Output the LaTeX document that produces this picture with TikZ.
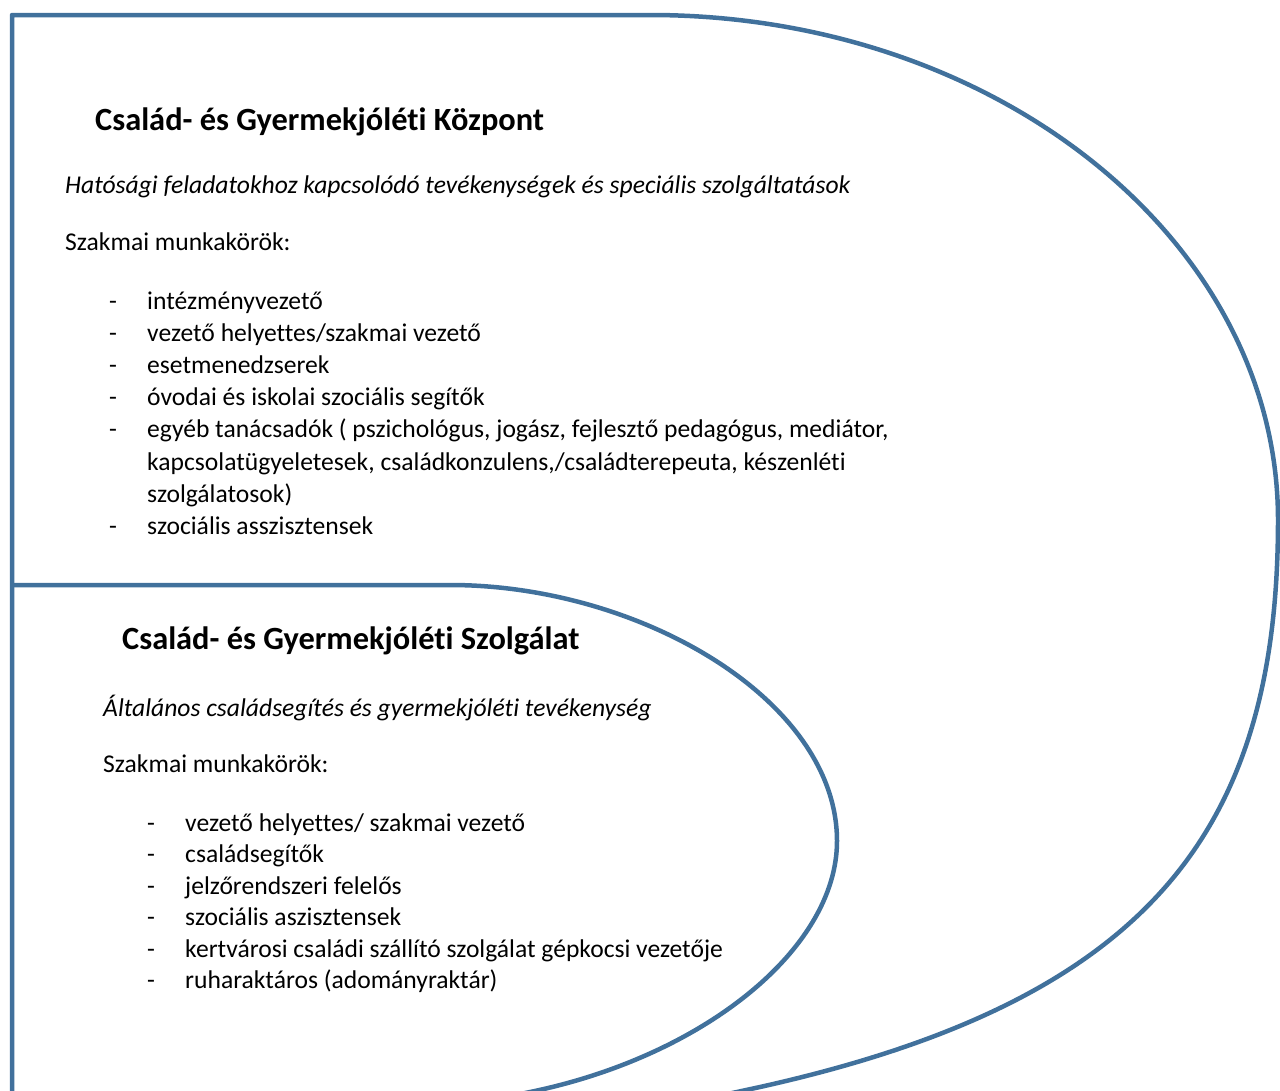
\documentclass[tikz,border=0pt]{standalone}
\usepackage{fontspec}
\setmainfont{Carlito}[Ligatures=CommonOff]
\definecolor{shapeblue}{RGB}{65,113,156}
\begin{document}
\begin{tikzpicture}[x=1pt,y=-1pt,
  outline/.style={draw=shapeblue,line width=4.5pt,line join=round},
  titletext/.style={anchor=base west,inner sep=0pt,font=\fontsize{32.4}{38}\selectfont\bfseries},
  desctext/.style={anchor=base west,inner sep=0pt,font=\fontsize{25.6}{32}\selectfont\itshape},
  bodytext/.style={anchor=base west,inner sep=0pt,font=\fontsize{25.6}{32}\selectfont},
  dashmark/.style={anchor=base west,inner sep=0pt,font=\fontsize{25.6}{32}\selectfont},
  itemtext/.style={anchor=base west,inner sep=0pt,align=left,font=\fontsize{25.6}{32.2}\selectfont}]
\useasboundingbox (0,0) rectangle (1280,1090);
% outer shape (Központ)
\draw[outline] (12,1096) -- (12,15) -- (650,15)
  .. controls (997,15) and (1278,241) .. (1278,520)
  .. controls (1278,830) and (1150,1000) .. (760,1087) -- (700,1100);
% inner shape (Szolgálat)
\draw[outline] (12,585) -- (450,585)
  .. controls (640,585) and (837,700) .. (837,841)
  .. controls (837,950) and (700,1060) .. (520,1094) -- (490,1099);
% texts of the outer shape
\node[titletext] (t1) at (95,130) {Család- és Gyermekjóléti Központ};
\node[desctext] (d1) at (65,193) {Hatósági feladatokhoz kapcsolódó tevékenységek és speciális szolgáltatások};
\node[bodytext] (s1) at (65,250) {Szakmai munkakörök:};
\foreach \y/\txt [count=\i] in {
  309/{intézményvezető},
  341.2/{vezető helyettes/szakmai vezető},
  373.4/{esetmenedzserek},
  405.6/{óvodai és iskolai szociális segítők},
  437.8/{egyéb tanácsadók ( pszichológus, jogász, fejlesztő pedagógus, mediátor,},
  534.4/{szociális asszisztensek}}
{
  \node[dashmark] (da\i) at (109,\y) {-};
  \node[itemtext] (ia\i) at (147,\y) {\txt};
}
\node[itemtext] (ia7) at (147,470) {kapcsolatügyeletesek, családkonzulens,/családterepeuta, készenléti};
\node[itemtext] (ia8) at (147,502.2) {szolgálatosok)};
% texts of the inner shape
\node[titletext] (t2) at (122,649) {Család- és Gyermekjóléti Szolgálat};
\node[desctext] (d2) at (103,716) {Általános családsegítés és gyermekjóléti tevékenység};
\node[bodytext] (s2) at (103,772) {Szakmai munkakörök:};
\foreach \y/\txt [count=\i] in {
  831/{vezető helyettes/ szakmai vezető},
  862.5/{családsegítők},
  894/{jelzőrendszeri felelős},
  925.5/{szociális aszisztensek},
  957/{kertvárosi családi szállító szolgálat gépkocsi vezetője},
  988.5/{ruharaktáros (adományraktár)}}
{
  \node[dashmark] (db\i) at (147,\y) {-};
  \node[itemtext] (ib\i) at (185,\y) {\txt};
}
\end{tikzpicture}
\end{document}
